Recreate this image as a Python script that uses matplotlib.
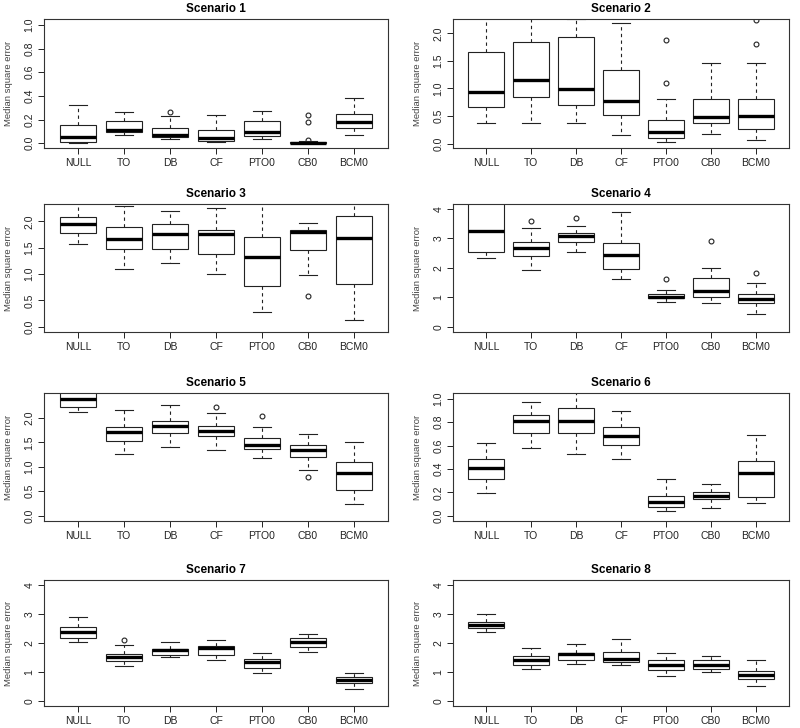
import numpy as np
import matplotlib
matplotlib.use("Agg")
import matplotlib.pyplot as plt

plt.rcParams['font.family'] = ['Liberation Sans', 'DejaVu Sans']

methods = ["NULL", "TO", "DB", "CF", "PTO0", "CB0", "BCM0"]
titles = ["Scenario %d" % i for i in range(1, 9)]

# per scenario: [whislo, q1, med, q3, whishi] for each method, then outliers
s1_stats = [[0.003, 0.014, 0.051, 0.156, 0.326],
            [0.074, 0.099, 0.116, 0.187, 0.260],
            [0.034, 0.051, 0.071, 0.130, 0.227],
            [0.011, 0.020, 0.044, 0.110, 0.235],
            [0.034, 0.060, 0.096, 0.190, 0.272],
            [0.000, 0.000, 0.004, 0.012, 0.020],
            [0.071, 0.133, 0.181, 0.250, 0.382]]
s1_out = [[], [], [0.26], [], [], [0.03, 0.18, 0.24], []]

s2_stats = [[0.365, 0.66, 0.93, 1.66, 2.60],
            [0.378, 0.84, 1.145, 1.845, 2.60],
            [0.378, 0.70, 0.99, 1.94, 2.254],
            [0.161, 0.526, 0.774, 1.34, 2.18],
            [0.025, 0.105, 0.217, 0.433, 0.817],
            [0.173, 0.378, 0.483, 0.805, 1.455],
            [0.074, 0.266, 0.50, 0.805, 1.455]]
s2_out = [[], [], [], [], [1.09, 1.88], [], [1.81, 2.24]]

s3_stats = [[1.572, 1.78, 1.943, 2.075, 2.50],
            [1.10, 1.484, 1.66, 1.887, 2.285],
            [1.208, 1.484, 1.767, 1.95, 2.20],
            [1.006, 1.384, 1.767, 1.836, 2.25],
            [0.289, 0.767, 1.333, 1.704, 2.60],
            [0.987, 1.465, 1.79, 1.843, 1.962],
            [0.132, 0.81, 1.69, 2.094, 2.60]]
s3_out = [[], [], [], [], [], [0.59], []]

s4_stats = [[2.35, 2.53, 3.24, 4.60, 5.20],
            [1.92, 2.40, 2.67, 2.86, 3.34],
            [2.52, 2.86, 3.08, 3.18, 3.42],
            [1.625, 1.966, 2.42, 2.84, 3.875],
            [0.84, 0.966, 1.02, 1.10, 1.25],
            [0.795, 1.02, 1.216, 1.65, 1.99],
            [0.443, 0.818, 0.955, 1.114, 1.50]]
s4_out = [[], [3.59], [3.70], [], [1.625], [2.91], [1.81]]

s5_stats = [[2.13, 2.233, 2.377, 2.60, 2.90],
            [1.253, 1.52, 1.719, 1.808, 2.158],
            [1.404, 1.699, 1.842, 1.93, 2.274],
            [1.336, 1.623, 1.74, 1.836, 2.11],
            [1.178, 1.363, 1.452, 1.589, 1.808],
            [0.938, 1.192, 1.336, 1.445, 1.664],
            [0.24, 0.527, 0.87, 1.089, 1.50]]
s5_out = [[], [], [], [2.226], [2.048], [0.80], []]

s6_stats = [[0.197, 0.314, 0.409, 0.483, 0.626],
            [0.577, 0.706, 0.811, 0.863, 0.969],
            [0.529, 0.711, 0.811, 0.92, 1.10],
            [0.483, 0.606, 0.683, 0.763, 0.897],
            [0.043, 0.074, 0.117, 0.169, 0.311],
            [0.069, 0.14, 0.166, 0.20, 0.271],
            [0.106, 0.163, 0.366, 0.469, 0.691]]
s6_out = [[], [], [], [], [], [], []]

s7_stats = [[2.05, 2.18, 2.37, 2.57, 2.89],
            [1.21, 1.39, 1.54, 1.63, 1.93],
            [1.53, 1.59, 1.76, 1.81, 2.04],
            [1.43, 1.59, 1.82, 1.89, 2.11],
            [0.99, 1.16, 1.34, 1.46, 1.67],
            [1.70, 1.88, 2.05, 2.18, 2.33],
            [0.42, 0.62, 0.75, 0.83, 0.96]]
s7_out = [[], [2.11], [], [], [], [], []]

s8_stats = [[2.37, 2.52, 2.62, 2.73, 2.99],
            [1.11, 1.24, 1.41, 1.55, 1.82],
            [1.30, 1.43, 1.61, 1.67, 1.98],
            [1.24, 1.34, 1.47, 1.69, 2.15],
            [0.88, 1.09, 1.24, 1.41, 1.65],
            [1.00, 1.12, 1.25, 1.41, 1.56],
            [0.52, 0.76, 0.92, 1.04, 1.41]]
s8_out = [[], [], [], [], [], [], []]

all_stats = [s1_stats, s2_stats, s3_stats, s4_stats, s5_stats, s6_stats, s7_stats, s8_stats]
all_out = [s1_out, s2_out, s3_out, s4_out, s5_out, s6_out, s7_out, s8_out]

ylims = [(-0.04, 1.05), (-0.08, 2.26), (-0.1, 2.33), (-0.17, 4.16),
         (-0.11, 2.51), (-0.045, 1.05), (-0.16, 4.17), (-0.16, 4.17)]
yticks = [np.arange(0, 1.01, 0.2), np.arange(0, 2.01, 0.5), np.arange(0, 2.01, 0.5),
          np.arange(0, 5, 1), np.arange(0, 2.01, 0.5), np.arange(0, 1.01, 0.2),
          np.arange(0, 5, 1), np.arange(0, 5, 1)]
yfmt = ["%.1f", "%.1f", "%.1f", "%d", "%.1f", "%.1f", "%d", "%d"]

W, H = 800, 728
fig = plt.figure(figsize=(8, 7.28), dpi=100)

cols = [(44, 388), (453, 789)]
rows = [(19, 148), (204, 332), (393, 521), (580, 706)]

for k in range(8):
    r, c = divmod(k, 2)
    x0, x1 = cols[c]
    y0, y1 = rows[r]
    ax = fig.add_axes([x0 / W, 1 - y1 / H, (x1 - x0) / W, (y1 - y0) / H])

    stats = []
    for name, s, o in zip(methods, all_stats[k], all_out[k]):
        stats.append(dict(label=name, whislo=s[0], q1=s[1], med=s[2],
                          q3=s[3], whishi=s[4], fliers=o))
    ax.bxp(stats, positions=np.arange(1, 8), widths=0.8, capwidths=0.4,
           showfliers=True, patch_artist=True,
           boxprops=dict(edgecolor='#222222', linewidth=0.8, facecolor='white'),
           medianprops=dict(color='black', linewidth=2.4, solid_capstyle='butt'),
           whiskerprops=dict(color='#222222', linewidth=0.8, linestyle=(0, (3, 3))),
           capprops=dict(color='#222222', linewidth=0.8),
           flierprops=dict(marker='o', markerfacecolor='none',
                           markeredgecolor='#222222', markersize=3.5,
                           markeredgewidth=0.8))

    ax.set_xlim(0.26, 7.74)
    ax.set_ylim(*ylims[k])
    ax.set_yticks(yticks[k])
    ax.set_yticklabels([yfmt[k] % v for v in yticks[k]], rotation=90, va='center')
    ax.set_xticks(np.arange(1, 8))
    ax.set_xticklabels(methods)
    ax.tick_params(axis='both', direction='out', length=4, width=0.7,
                   colors='#222222', labelsize=7.5, pad=3)
    ax.tick_params(axis='x', pad=3.5)
    for sp in ax.spines.values():
        sp.set_linewidth(0.8)
        sp.set_color('#333333')
    ax.set_ylabel("Median square error", fontsize=6.8, color='#444444', labelpad=8)
    ax.set_title(titles[k], fontsize=8.5, fontweight='bold', pad=5)

fig.savefig("out.png", dpi=100)
